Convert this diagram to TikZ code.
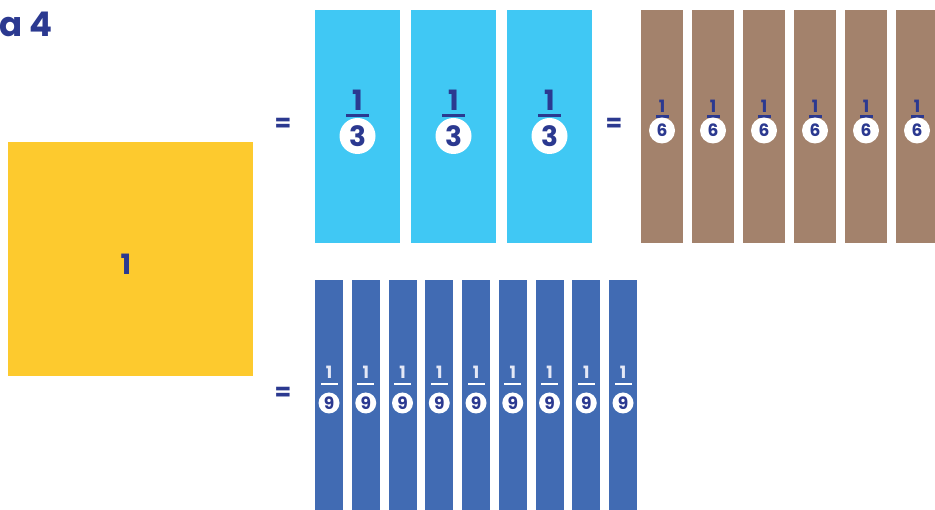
\documentclass[tikz,border=0pt]{standalone}
\usepackage{fontspec}
\setmainfont{Poppins}
\definecolor{navy}{HTML}{2B3990}
\definecolor{yel}{HTML}{FDCA2E}
\definecolor{cyanbar}{HTML}{40C8F4}
\definecolor{brownbar}{HTML}{A3826C}
\definecolor{bluebar}{HTML}{416BB3}
\definecolor{lilac}{HTML}{E4E8F6}
\tikzset{
  piece/.style={draw=none, inner sep=0pt, anchor=north west},
  eqsign/.style={text=navy, font=\bfseries\fontsize{24}{24}\selectfont, inner sep=0pt},
  numtxt/.style={text=navy, font=\bfseries\fontsize{#1}{#1}\selectfont, inner sep=0pt},
  numtxt/.default=28,
  disc/.style={circle, fill=white, inner sep=0pt, minimum size=#1},
}
\begin{document}
\begin{tikzpicture}[x=1pt,y=-1pt]
\useasboundingbox (0,0) rectangle (935,510);
% title
\node[numtxt=34, anchor=base west] (title) at (-1,37) {a 4};
% unit square
\node[piece, fill=yel, minimum width=245pt, minimum height=234pt] (one) at (8,142) {};
\node[numtxt=28] (onelabel) at (126,264) {1};
% equals signs
\node[eqsign] (eq1) at (283,125) {=};
\node[eqsign] (eq2) at (614,125) {=};
\node[eqsign] (eq3) at (283,394) {=};
% thirds
\foreach \i/\x in {1/315,2/411,3/507}{
  \node[piece, fill=cyanbar, minimum width=85pt, minimum height=233pt] (t\i) at (\x,10) {};
  \pgfmathsetmacro{\c}{\x+42.5}
  \node[numtxt=28] (tn\i) at (\c,100) {1};
  \fill[navy] (\c-11.5,114.5) rectangle (\c+11.5,117.5);
  \node[disc=36pt] (td\i) at (\c,136) {};
  \node[numtxt=28] (tdn\i) at (td\i.center) {3};
}
% sixths
\foreach \i in {1,...,6}{
  \node[piece, fill=brownbar, minimum width=42pt, minimum height=233pt] (s\i) at ({641+51*(\i-1)},10) {};
  \pgfmathsetmacro{\c}{662+51*(\i-1)}
  \node[numtxt=17] (sn\i) at (\c,106) {1};
  \fill[navy] (\c-6.5,115.5) rectangle (\c+6.5,118);
  \node[disc=26pt] (sd\i) at (\c,130.5) {};
  \node[numtxt=17] (sdn\i) at (sd\i.center) {6};
}
% ninths
\foreach \i in {1,...,9}{
  \node[piece, fill=bluebar, minimum width=28pt, minimum height=240pt] (n\i) at ({315+36.75*(\i-1)},280) {};
  \pgfmathsetmacro{\c}{329+36.75*(\i-1)}
  \node[text=lilac, font=\bfseries\fontsize{17}{17}\selectfont, inner sep=0pt] (nn\i) at (\c,372) {1};
  \fill[white] (\c-8.5,383) rectangle (\c+8.5,385.5);
  \node[disc=21pt] (nd\i) at (\c,403) {};
  \node[numtxt=17] (ndn\i) at (nd\i.center) {9};
}
\end{tikzpicture}
\end{document}
